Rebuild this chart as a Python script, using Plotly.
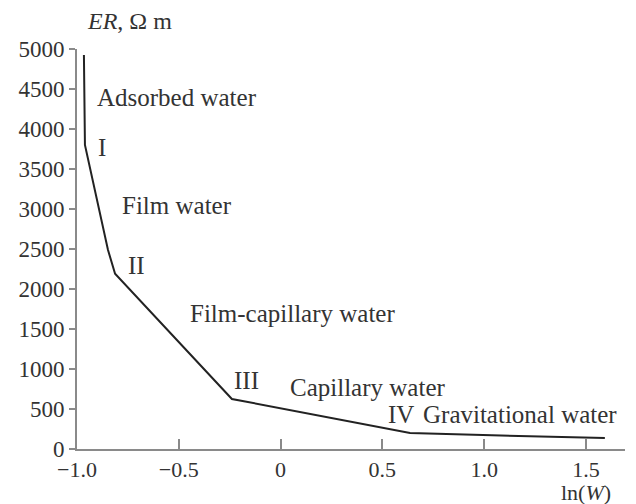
import plotly.graph_objects as go

# Electrical resistivity vs. log of moisture content
ln_w = [-0.966, -0.961, -0.848, -0.813, -0.239, 0.636, 0.994, 1.593]
er = [4925, 3800, 2490, 2190, 625, 200, 175, 137]

x_ticks = [-1.0, -0.5, 0, 0.5, 1.0, 1.5]
x_ticktext = ["\u22121.0", "\u22120.5", "0", "0.5", "1.0", "1.5"]
y_ticks = [0, 500, 1000, 1500, 2000, 2500, 3000, 3500, 4000, 4500, 5000]

# Zone labels: (text, x, y)
zone_labels = [
    ("Adsorbed water", -0.912, 4388),
    ("I", -0.907, 3775),
    ("Film water", -0.789, 3038),
    ("II", -0.759, 2300),
    ("Film-capillary water", -0.455, 1700),
    ("III", -0.239, 862),
    ("Capillary water", 0.036, 770),
    ("IV", 0.518, 430),
    ("Gravitational water", 0.690, 430),
]

FONT = "Liberation Serif"
TXT = "#333333"
AXC = "#8a8a8a"

fig = go.Figure()
fig.add_trace(go.Scatter(
    x=ln_w, y=er, mode="lines",
    line=dict(color="#222222", width=2),
    showlegend=False, hoverinfo="skip",
))

for text, x, y in zone_labels:
    fig.add_annotation(
        x=x, y=y, xref="x", yref="y", text=text, showarrow=False,
        xanchor="left", yanchor="middle",
        font=dict(family=FONT, size=25, color=TXT),
    )

fig.add_annotation(
    x=0.096, y=1.071, xref="paper", yref="paper",
    text="<i>ER</i>, \u03a9 m", showarrow=False,
    xanchor="center", yanchor="middle",
    font=dict(family=FONT, size=24, color=TXT),
)
fig.add_annotation(
    x=1.5, y=-0.108, xref="x", yref="paper",
    text="ln(<i>W</i>)", showarrow=False,
    xanchor="center", yanchor="middle",
    font=dict(family=FONT, size=22, color=TXT),
)

fig.update_xaxes(
    range=[-1.0, 1.692], tickvals=x_ticks, ticktext=x_ticktext,
    ticks="inside", ticklen=10, tickwidth=2, tickcolor=AXC,
    showline=True, linecolor=AXC, linewidth=2,
    showgrid=False, zeroline=False,
    tickfont=dict(family=FONT, size=22, color=TXT),
)
fig.update_yaxes(
    range=[0, 5000], tickvals=y_ticks,
    ticks="outside", ticklen=6, tickwidth=2, tickcolor=AXC,
    showline=True, linecolor=AXC, linewidth=2,
    showgrid=False, zeroline=False,
    tickfont=dict(family=FONT, size=23, color=TXT),
)

fig.update_layout(
    width=636, height=504,
    margin=dict(l=77, r=11, t=49, b=55),
    paper_bgcolor="white", plot_bgcolor="white",
)

fig.write_html("out.html")
